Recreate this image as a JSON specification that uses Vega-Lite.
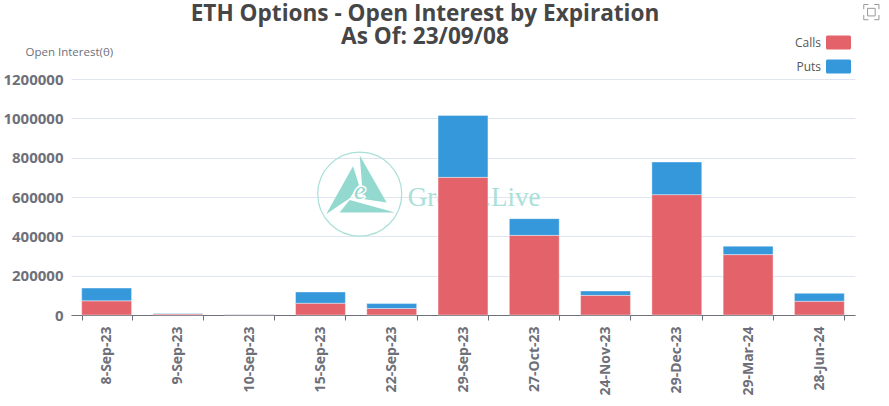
{"$schema":"https://vega.github.io/schema/vega-lite/v6.json","width":784,"height":236,"autosize":{"type":"none"},"padding":{"left":71,"top":79,"right":34,"bottom":91},"background":"white","title":{"text":["ETH Options - Open Interest by Expiration","As Of: 23/09/08"],"font":"Open Sans","fontSize":22.6,"fontWeight":"bold","color":"#464646","lineHeight":23,"anchor":"middle","dx":-38,"offset":-46},"config":{"view":{"stroke":null},"font":"Open Sans"},"datasets":{"oi":[{"expiry":"8-Sep-23","type":"Calls","oi":72000},{"expiry":"8-Sep-23","type":"Puts","oi":65000},{"expiry":"9-Sep-23","type":"Calls","oi":5000},{"expiry":"9-Sep-23","type":"Puts","oi":3000},{"expiry":"10-Sep-23","type":"Calls","oi":2000},{"expiry":"10-Sep-23","type":"Puts","oi":2000},{"expiry":"15-Sep-23","type":"Calls","oi":60000},{"expiry":"15-Sep-23","type":"Puts","oi":57000},{"expiry":"22-Sep-23","type":"Calls","oi":33000},{"expiry":"22-Sep-23","type":"Puts","oi":25000},{"expiry":"29-Sep-23","type":"Calls","oi":700000},{"expiry":"29-Sep-23","type":"Puts","oi":315000},{"expiry":"27-Oct-23","type":"Calls","oi":405000},{"expiry":"27-Oct-23","type":"Puts","oi":85000},{"expiry":"24-Nov-23","type":"Calls","oi":100000},{"expiry":"24-Nov-23","type":"Puts","oi":22000},{"expiry":"29-Dec-23","type":"Calls","oi":612000},{"expiry":"29-Dec-23","type":"Puts","oi":166000},{"expiry":"29-Mar-24","type":"Calls","oi":307000},{"expiry":"29-Mar-24","type":"Puts","oi":43000},{"expiry":"28-Jun-24","type":"Calls","oi":70000},{"expiry":"28-Jun-24","type":"Puts","oi":40000}],"mark":[{"expiry":"22-Sep-23","level":615000,"word":"Greeks.Live","e":"e"}],"icon":[{"expiry":"28-Jun-24","level":1540000}]},"encoding":{"x":{"field":"expiry","type":"nominal","sort":null,"scale":{"domain":["8-Sep-23","9-Sep-23","10-Sep-23","15-Sep-23","22-Sep-23","29-Sep-23","27-Oct-23","24-Nov-23","29-Dec-23","29-Mar-24","28-Jun-24"],"paddingInner":0.3,"paddingOuter":0.15},"axis":{"title":null,"labelAngle":-90,"labelAlign":"right","labelBaseline":"middle","labelFont":"Open Sans","labelFontSize":14,"labelFontWeight":"bold","labelColor":"#6e7079","labelPadding":6,"tickBand":"extent","tickColor":"#6e7079","tickSize":5,"domainColor":"#6e7079","grid":false}},"y":{"field":"oi","type":"quantitative","scale":{"domain":[0,1200000],"nice":false},"axis":{"title":"Open Interest(θ)","titleAngle":0,"titleAlign":"left","titleBaseline":"middle","titleX":-46,"titleY":-27,"titleFont":"Open Sans","titleFontSize":11.5,"titleFontWeight":"normal","titleColor":"#6e7079","values":[0,200000,400000,600000,800000,1000000,1200000],"format":"d","labelFont":"Open Sans","labelFontSize":15,"labelFontWeight":"bold","labelColor":"#6e7079","labelPadding":8,"ticks":false,"domain":false,"grid":true,"gridColor":"#e0e6f1","gridWidth":1}}},"layer":[{"data":{"name":"mark"},"mark":{"type":"point","filled":false,"shape":"circle","size":7056,"stroke":"#a9e0d8","strokeWidth":1.2,"opacity":1,"xOffset":-32,"clip":false},"encoding":{"x":{"field":"expiry","type":"nominal"},"y":{"field":"level","type":"quantitative"}}},{"data":{"name":"mark"},"mark":{"type":"point","filled":true,"opacity":1,"color":"#93d9cf","size":28224,"xOffset":-32,"shape":"M-.08,-.33L-.01,-.11L-.12,.05L-.40,.24ZM0,-.46L.32,.10L.04,.06ZM-.12,.07L.42,.22L-.24,.22Z"},"encoding":{"x":{"field":"expiry","type":"nominal"},"y":{"field":"level","type":"quantitative"}}},{"data":{"name":"mark"},"mark":{"type":"text","font":"Liberation Serif","fontStyle":"italic","fontSize":26,"color":"#ffffff","stroke":"#ffffff","strokeWidth":3,"xOffset":-32,"yOffset":-3},"encoding":{"x":{"field":"expiry","type":"nominal"},"y":{"field":"level","type":"quantitative"},"text":{"field":"e"}}},{"data":{"name":"mark"},"mark":{"type":"text","font":"Liberation Serif","fontStyle":"italic","fontSize":26,"color":"#93d9cf","xOffset":-32,"yOffset":-3},"encoding":{"x":{"field":"expiry","type":"nominal"},"y":{"field":"level","type":"quantitative"},"text":{"field":"e"}}},{"data":{"name":"mark"},"mark":{"type":"text","font":"Liberation Serif","fontSize":27,"color":"#a9e0d8","align":"left","baseline":"middle","xOffset":16,"yOffset":4},"encoding":{"x":{"field":"expiry","type":"nominal"},"y":{"field":"level","type":"quantitative"},"text":{"field":"word"}}},{"data":{"name":"oi"},"mark":{"type":"bar","stroke":"#ffffff","strokeOpacity":0.4,"strokeWidth":1},"encoding":{"y":{"field":"oi","type":"quantitative","stack":"zero"},"order":{"field":"type"},"color":{"field":"type","type":"nominal","scale":{"domain":["Calls","Puts"],"range":["#e46269","#3498db"]},"legend":{"title":null,"orient":"none","legendX":755,"legendY":-49,"direction":"vertical","symbolType":"M-1,-.44Q-1,-.56,-.88,-.56L.88,-.56Q1,-.56,1,-.44L1,.44Q1,.56,.88,.56L-.88,.56Q-1,.56,-1,.44Z","symbolSize":625,"symbolStrokeWidth":0,"symbolOpacity":1,"labelFont":"Open Sans","labelFontSize":12,"labelColor":"#555555","labelAlign":"right","labelOffset":-30,"rowPadding":4}}}},{"data":{"name":"icon"},"mark":{"type":"point","filled":false,"size":1444,"stroke":"#999999","strokeWidth":1,"opacity":1,"xOffset":52,"shape":"M-.4,-.15L-.4,-.4L-.15,-.4M.15,-.4L.4,-.4L.4,-.15M.4,.15L.4,.4L.15,.4M-.15,.4L-.4,.4L-.4,.15M-.2,-.2L.2,-.2L.2,.2L-.2,.2Z"},"encoding":{"x":{"field":"expiry","type":"nominal"},"y":{"field":"level","type":"quantitative"}}}]}
